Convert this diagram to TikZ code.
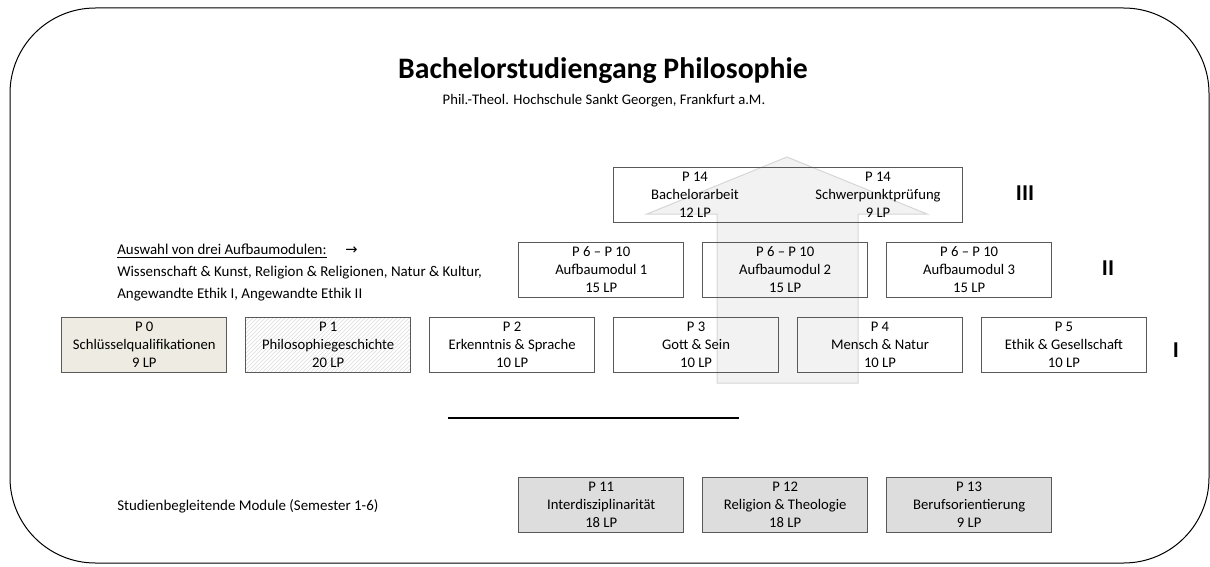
\documentclass[tikz,border=0pt]{standalone}
\usepackage{fontspec}
\setmainfont{Carlito}
\newfontfamily\pfeilfont{DejaVu Sans}
\usepackage{tikz}
\usetikzlibrary{positioning, patterns}
\definecolor{rahmen}{RGB}{89,89,89}
\definecolor{beige}{RGB}{238,236,226}
\definecolor{grau}{RGB}{221,221,221}
\definecolor{pfeil}{RGB}{242,242,242}
\definecolor{pfeilrand}{RGB}{214,214,214}

\begin{document}
\begin{tikzpicture}[
  x=0.75pt, y=-0.75pt,
  node distance=13.8pt and 13.8pt,
  modul/.style={draw=rahmen, line width=0.75pt, minimum width=123.4pt, minimum height=41.25pt, inner sep=0pt, align=center, font=\fontsize{11}{13.5}\selectfont},
  schl/.style={modul, fill=beige},
  geschichte/.style={modul, pattern=north east lines, pattern color=black!14},
  begleit/.style={modul, fill=grau},
  txt/.style={align=center, inner sep=0pt, font=\fontsize{11}{13.5}\selectfont},
  info/.style={align=left, inner sep=0pt, font=\fontsize{11.2}{16.5}\selectfont},
  stufe/.style={inner sep=0pt, font=\fontsize{17}{20}\selectfont\bfseries},
]
\useasboundingbox (0,0) rectangle (1210,567);

% Frame
\draw[line width=0.75pt, rounded corners=64pt] (10,8) rectangle (1209,563);

% Title
\node[inner sep=0pt, font=\fontsize{22.3}{26}\selectfont\bfseries] (titel) at (603,71) {Bachelorstudiengang Philosophie};
\node[inner sep=0pt, font=\fontsize{11}{13}\selectfont] (ort) at (604,101) {Phil.-Theol. Hochschule Sankt Georgen, Frankfurt a.M.};

% Arrow in the back
\fill[pfeil, draw=pfeilrand, line width=0.75pt] (717,383) -- (717,214) -- (647,214) -- (787,157) -- (927,214) -- (858,214) -- (858,383) -- cycle;

% Level III
\node[modul, minimum width=261.75pt] (P14) at (787.5,194.5) {};
\node[txt] (P14a) at (695,194.5) {P 14\\Bachelorarbeit\\12 LP};
\node[txt] (P14b) at (878,194.5) {P 14\\Schwerpunktprüfung\\9 LP};

% Level II
\node[modul] (AM1) at (601.25,269.5) {P 6 – P 10\\Aufbaumodul 1\\15 LP};
\node[modul, right=of AM1] (AM2) {P 6 – P 10\\Aufbaumodul 2\\15 LP};
\node[modul, right=of AM2] (AM3) {P 6 – P 10\\Aufbaumodul 3\\15 LP};

% Level I
\node[schl] (P0) at (144.25,344.5) {P 0\\Schlüsselqualifikationen\\9 LP};
\node[geschichte, right=of P0] (P1) {P 1\\Philosophiegeschichte\\20 LP};
\node[modul, right=of P1] (P2) {P 2\\Erkenntnis \& Sprache\\10 LP};
\node[modul, right=of P2] (P3) {P 3\\Gott \& Sein\\10 LP};
\node[modul, right=of P3] (P4) {P 4\\Mensch \& Natur\\10 LP};
\node[modul, right=of P4] (P5) {P 5\\Ethik \& Gesellschaft\\10 LP};

% Levels
\node[stufe] (S3) at (1025,193) {III};
\node[stufe] (S2) at (1108,268) {II};
\node[stufe] (S1) at (1176,350) {I};

% Choice
\node[info, anchor=north west] (auswahl) at (117,244) {\underline{Auswahl von drei Aufbaumodulen:}\hspace{14pt}{\pfeilfont\fontsize{11}{13}\selectfont →}\\
  Wissenschaft \& Kunst, Religion \& Religionen, Natur \& Kultur,\\
  Angewandte Ethik I, Angewandte Ethik II};

% Separator
\coordinate (trennL) at (448,418);
\coordinate (trennR) at (739,418);
\draw[line width=1pt] (trennL) -- (trennR);

% Accompanying modules
\node[info, anchor=west] (begleitend) at (117,506) {Studienbegleitende Module (Semester 1-6)};
\node[begleit] (P11) at (601.25,505) {P 11\\Interdisziplinarität\\18 LP};
\node[begleit, right=of P11] (P12) {P 12\\Religion \& Theologie\\18 LP};
\node[begleit, right=of P12] (P13) {P 13\\Berufsorientierung\\9 LP};

\end{tikzpicture}
\end{document}
